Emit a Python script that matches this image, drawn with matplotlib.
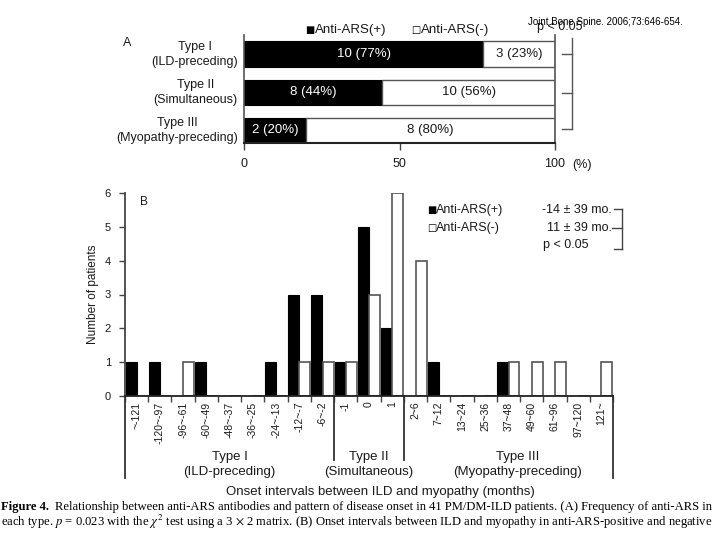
import numpy as np
import matplotlib
matplotlib.use('Agg')
import matplotlib.pyplot as plt
from matplotlib.lines import Line2D
import matplotlib.transforms as mtransforms

plt.rcParams['font.family'] = ['Liberation Sans', 'DejaVu Sans']
plt.rcParams['mathtext.fontset'] = 'stix'

# ---- data, panel A
types_a = ['Type I\n(ILD-preceding)', 'Type II\n(Simultaneous)', 'Type III\n(Myopathy-preceding)']
pos_a = [10, 8, 2]
neg_a = [3, 10, 8]

# ---- data, panel B
cats_b = ['~-121', '-120~-97', '-96~-61', '-60~-49', '-48~-37', '-36~-25', '-24~-13', '-12~-7', '-6~-2',
          '-1', '0', '1',
          '2~6', '7~12', '13~24', '25~36', '37~48', '49~60', '61~96', '97~120', '121~']
pos_b = [1, 1, 0, 1, 0, 0, 1, 3, 3, 1, 5, 2, 0, 1, 0, 0, 1, 0, 0, 0, 0]
neg_b = [0, 0, 1, 0, 0, 0, 0, 1, 1, 1, 3, 6, 4, 0, 0, 0, 1, 1, 1, 0, 1]
groups_b = ['Type I\n(ILD-preceding)', 'Type II\n(Simultaneous)', 'Type III\n(Myopathy-preceding)']
group_sizes = [9, 3, 9]

W, H = 720, 540
fig = plt.figure(figsize=(7.2, 5.4), dpi=100)


def px(x, y):
    return x / W, 1 - y / H


def ftext(x, y, s, **kw):
    fx, fy = px(x, y)
    fig.text(fx, fy, s, **kw)


def fline(xs, ys, **kw):
    fx = [x / W for x in xs]
    fy = [1 - y / H for y in ys]
    fig.add_artist(Line2D(fx, fy, **kw))


txt = '#1a1a1a'

# ================= panel A
axa = fig.add_axes([244 / W, 1 - 143 / H, (555 - 244) / W, (143 - 35) / H])
tot = np.array(pos_a) + np.array(neg_a)
pct_pos = np.array(pos_a) / tot * 100
pct_neg = 100 - pct_pos
ya = np.arange(len(types_a))[::-1]
axa.barh(ya, pct_pos, height=0.66, color='black', edgecolor='black', lw=0.8)
axa.barh(ya, pct_neg, left=pct_pos, height=0.66, color='white', edgecolor='#555555', lw=1.0)
for i in range(len(types_a)):
    axa.text(pct_pos[i] / 2, ya[i], '%d (%d%%)' % (pos_a[i], round(pct_pos[i])),
             color='white', ha='center', va='center', fontsize=9.5)
    axa.text(pct_pos[i] + pct_neg[i] / 2, ya[i], '%d (%d%%)' % (neg_a[i], round(pct_neg[i])),
             color=txt, ha='center', va='center', fontsize=9.5)
    axa.text(-0.02, ya[i], types_a[i], transform=mtransforms.blended_transform_factory(axa.transAxes, axa.transData),
             ha='right', va='center', multialignment='center', fontsize=9, color=txt, linespacing=1.35)
axa.set_xlim(0, 100)
axa.set_ylim(-0.33, 2.5)
axa.set_yticks([])
axa.set_xticks([0, 50, 100])
axa.set_xticklabels(['0', '50', '100'], fontsize=9, color=txt)
axa.tick_params(axis='x', length=5, width=1, color='#444444', pad=6)
axa.spines['top'].set_visible(False)
for s in ['left', 'right']:
    axa.spines[s].set_color('#555555')
    axa.spines[s].set_linewidth(1.2)
axa.spines['bottom'].set_color('#222222')
axa.spines['bottom'].set_linewidth(1.5)

ftext(572, 165, '(%)', fontsize=9, color=txt, va='center')
ftext(123, 43, 'A', fontsize=9, color=txt, va='center')
ftext(305, 30, '■', fontsize=7, color='black', va='center', family=['DejaVu Sans'])
ftext(315, 30, 'Anti-ARS(+)', fontsize=9.5, color=txt, va='center')
ftext(411, 30, '□', fontsize=7, color='black', va='center', family=['DejaVu Sans'])
ftext(421, 30, 'Anti-ARS(-)', fontsize=9.5, color=txt, va='center')
ftext(537, 27, 'p < 0.05', fontsize=9, color=txt, va='center')
ftext(528, 22, 'Joint Bone Spine. 2006;73:646-654.', fontsize=7, color='black', va='center')
fline([572, 572], [38, 129], color='#555555', lw=1)
fline([562, 572], [54, 54], color='#555555', lw=1)
fline([562, 572], [93, 93], color='#555555', lw=1)
fline([562, 572], [129, 129], color='#555555', lw=1)

# ================= panel B
axb = fig.add_axes([125 / W, 1 - 396 / H, (613 - 125) / W, (396 - 193) / H])
xb = np.arange(len(cats_b))
axb.bar(xb - 0.24, pos_b, width=0.47, color='black', edgecolor='black', lw=0.8)
axb.bar(xb + 0.24, neg_b, width=0.47, color='white', edgecolor='#555555', lw=1.2)
axb.set_xlim(-0.5, len(cats_b) - 0.5)
axb.set_ylim(0, 6)
axb.set_yticks(range(7))
axb.set_yticklabels([str(v) for v in range(7)], fontsize=8, color=txt)
axb.tick_params(axis='y', length=4, width=1, color='#444444', pad=6)
axb.set_xticks(xb)
axb.set_xticklabels(cats_b, rotation=90, fontsize=7.5, color=txt, va='top')
axb.tick_params(axis='x', which='major', length=0, pad=4)
axb.set_xticks(np.arange(len(cats_b) + 1) - 0.5, minor=True)
axb.tick_params(axis='x', which='minor', length=4, width=1, color='#444444')
axb.spines['top'].set_visible(False)
axb.spines['right'].set_visible(False)
axb.spines['left'].set_color('#444444')
axb.spines['left'].set_linewidth(1.3)
axb.spines['bottom'].set_color('#222222')
axb.spines['bottom'].set_linewidth(1.3)
axb.set_ylabel('Number of patients', fontsize=8.5, color=txt, labelpad=4)

trb = mtransforms.blended_transform_factory(axb.transData, axb.transAxes)
edges = np.concatenate([[0], np.cumsum(group_sizes)]) - 0.5
for k, e in enumerate(edges):
    low = -0.404 if k in (0, len(edges) - 1) else -0.315
    axb.plot([e, e], [0, low], transform=trb, color='#333333', lw=1.3, clip_on=False)
label_x = [(edges[k] + edges[k + 1]) / 2 for k in range(len(groups_b))]
label_x[2] += 0.4
for k, g in enumerate(groups_b):
    axb.text(label_x[k], -0.337, g, transform=trb, ha='center', va='center',
             multialignment='center', fontsize=9.5, color=txt, linespacing=1.3)
axb.text(0.5225, -0.473, 'Onset intervals between ILD and myopathy (months)', transform=axb.transAxes,
         ha='center', va='center', fontsize=9.5, color=txt)

ftext(140, 202, 'B', fontsize=8.5, color=txt, va='center')
ftext(427, 210, '■', fontsize=7, color='black', va='center', family=['DejaVu Sans'])
ftext(436, 210, 'Anti-ARS(+)', fontsize=9, color=txt, va='center')
ftext(612, 210, '-14 ± 39 mo.', fontsize=9, color=txt, va='center', ha='right')
ftext(427, 228, '□', fontsize=7, color='black', va='center', family=['DejaVu Sans'])
ftext(436, 228, 'Anti-ARS(-)', fontsize=9, color=txt, va='center')
ftext(612, 228, '11 ± 39 mo.', fontsize=9, color=txt, va='center', ha='right')
ftext(543, 245, 'p < 0.05', fontsize=9, color=txt, va='center')
fline([622, 622], [209, 249], color='#444444', lw=1)
fline([614, 622], [209, 209], color='#444444', lw=1)
fline([612, 622], [228, 228], color='#444444', lw=1)
fline([614, 622], [249, 249], color='#444444', lw=1)

# ================= caption
ftext(1, 507, 'Figure 4.', fontsize=9.1, color='black', va='center', family='Liberation Serif', weight='bold')
ftext(55, 507, 'Relationship between anti-ARS antibodies and pattern of disease onset in 41 PM/DM-ILD patients. '
      '(A) Frequency of anti-ARS in', fontsize=9.1, color='black', va='center', family='Liberation Serif')
ftext(1, 522, r'each type. $p$ = 0.023 with the $\chi^2$ test using a 3 $\times$ 2 matrix. (B) Onset intervals '
      'between ILD and myopathy in anti-ARS-positive and negative', fontsize=9.1, color='black', va='center',
      family='Liberation Serif')

fig.savefig('out.png', dpi=100)
